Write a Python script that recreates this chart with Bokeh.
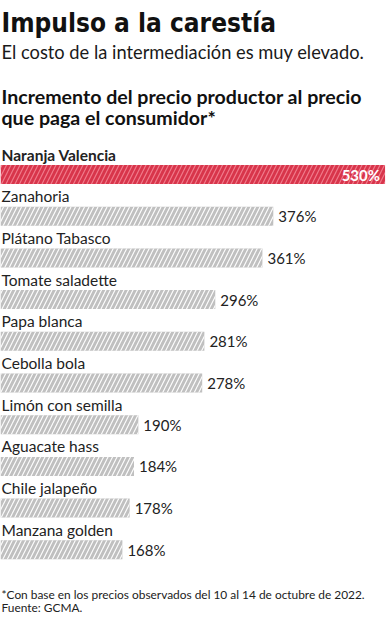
from bokeh.plotting import figure
from bokeh.models import Range1d, ColumnDataSource
from bokeh.core.properties import value
from bokeh.embed import file_html
from bokeh.resources import INLINE

categories = ["Naranja Valencia", "Zanahoria", "Plátano Tabasco", "Tomate saladette",
              "Papa blanca", "Cebolla bola", "Limón con semilla", "Aguacate hass",
              "Chile jalapeño", "Manzana golden"]
values = [530, 376, 361, 296, 281, 278, 190, 184, 178, 168]
value_labels = [f"{v}%" for v in values]

title = "Impulso a la carestía"
subtitle = "El costo de la intermediación es muy elevado."
heading = ["Incremento del precio productor al precio", "que paga el consumidor*"]
notes = ["*Con base en los precios observados del 10 al 14 de octubre de 2022.", "Fuente: GCMA."]

W, H = 386, 620
p = figure(width=W, height=H, output_backend="svg", toolbar_location=None,
           x_range=Range1d(0, 532), y_range=Range1d(H, 0), min_border=0)
p.axis.visible = False
p.xgrid.visible = False
p.ygrid.visible = False
p.outline_line_color = None
p.background_fill_color = "white"

row0, step = 174, 41.7
ys = [row0 + step * i for i in range(len(values))]
colors = ["#d8354b"] + ["#c0c0c0"] * (len(values) - 1)
hcolors = ["#f27d8d"] + ["white"] * (len(values) - 1)
src = ColumnDataSource(dict(y=ys, v=values, c=colors, hc=hcolors))
p.hbar(y="y", left=0, right="v", height=19, source=src, fill_color="c", line_color=None,
       hatch_pattern="/", hatch_color="hc", hatch_scale=9, hatch_weight=1.1)

font = value("Lato")
ly = [y - 20 for y in ys]
p.text(x=0, y=ly[1:], text=categories[1:], text_font=font, text_font_size="15.5px",
       text_color="#222222", text_baseline="middle", x_offset=1)
p.text(x=[0], y=[ly[0]], text=[categories[0]], text_font=font, text_font_size="15.5px",
       text_font_style="bold", text_color="#222222", text_baseline="middle", x_offset=1)
p.text(x=values[1:], y=ys[1:], text=value_labels[1:], text_font=font, text_font_size="15px",
       text_color="#222222", text_baseline="middle", x_offset=5)
p.text(x=[values[0]], y=[ys[0]], text=[value_labels[0]], text_font=font, text_font_size="15px",
       text_font_style="bold", text_color="white", text_baseline="middle", text_align="right", x_offset=-5)

def lab(txt, ymid, size, fontname, style="normal", color="#1a1a1a"):
    p.text(x=[0], y=[ymid], text=[txt], text_font=value(fontname), text_font_size=size,
           text_font_style=style, text_color=color, text_baseline="middle", x_offset=1)

lab(title, 22, "26px", "DejaVu Sans Condensed", "bold", "#111111")
lab(subtitle, 51, "18.3px", "Lato")
lab(heading[0], 96, "19.6px", "Lato", "bold", "#111111")
lab(heading[1], 117, "19.6px", "Lato", "bold", "#111111")
lab(notes[0], 594, "11.9px", "Lato", "normal", "#222222")
lab(notes[1], 607, "11.9px", "Lato", "normal", "#222222")

open("out.html", "w").write(file_html(p, INLINE))
